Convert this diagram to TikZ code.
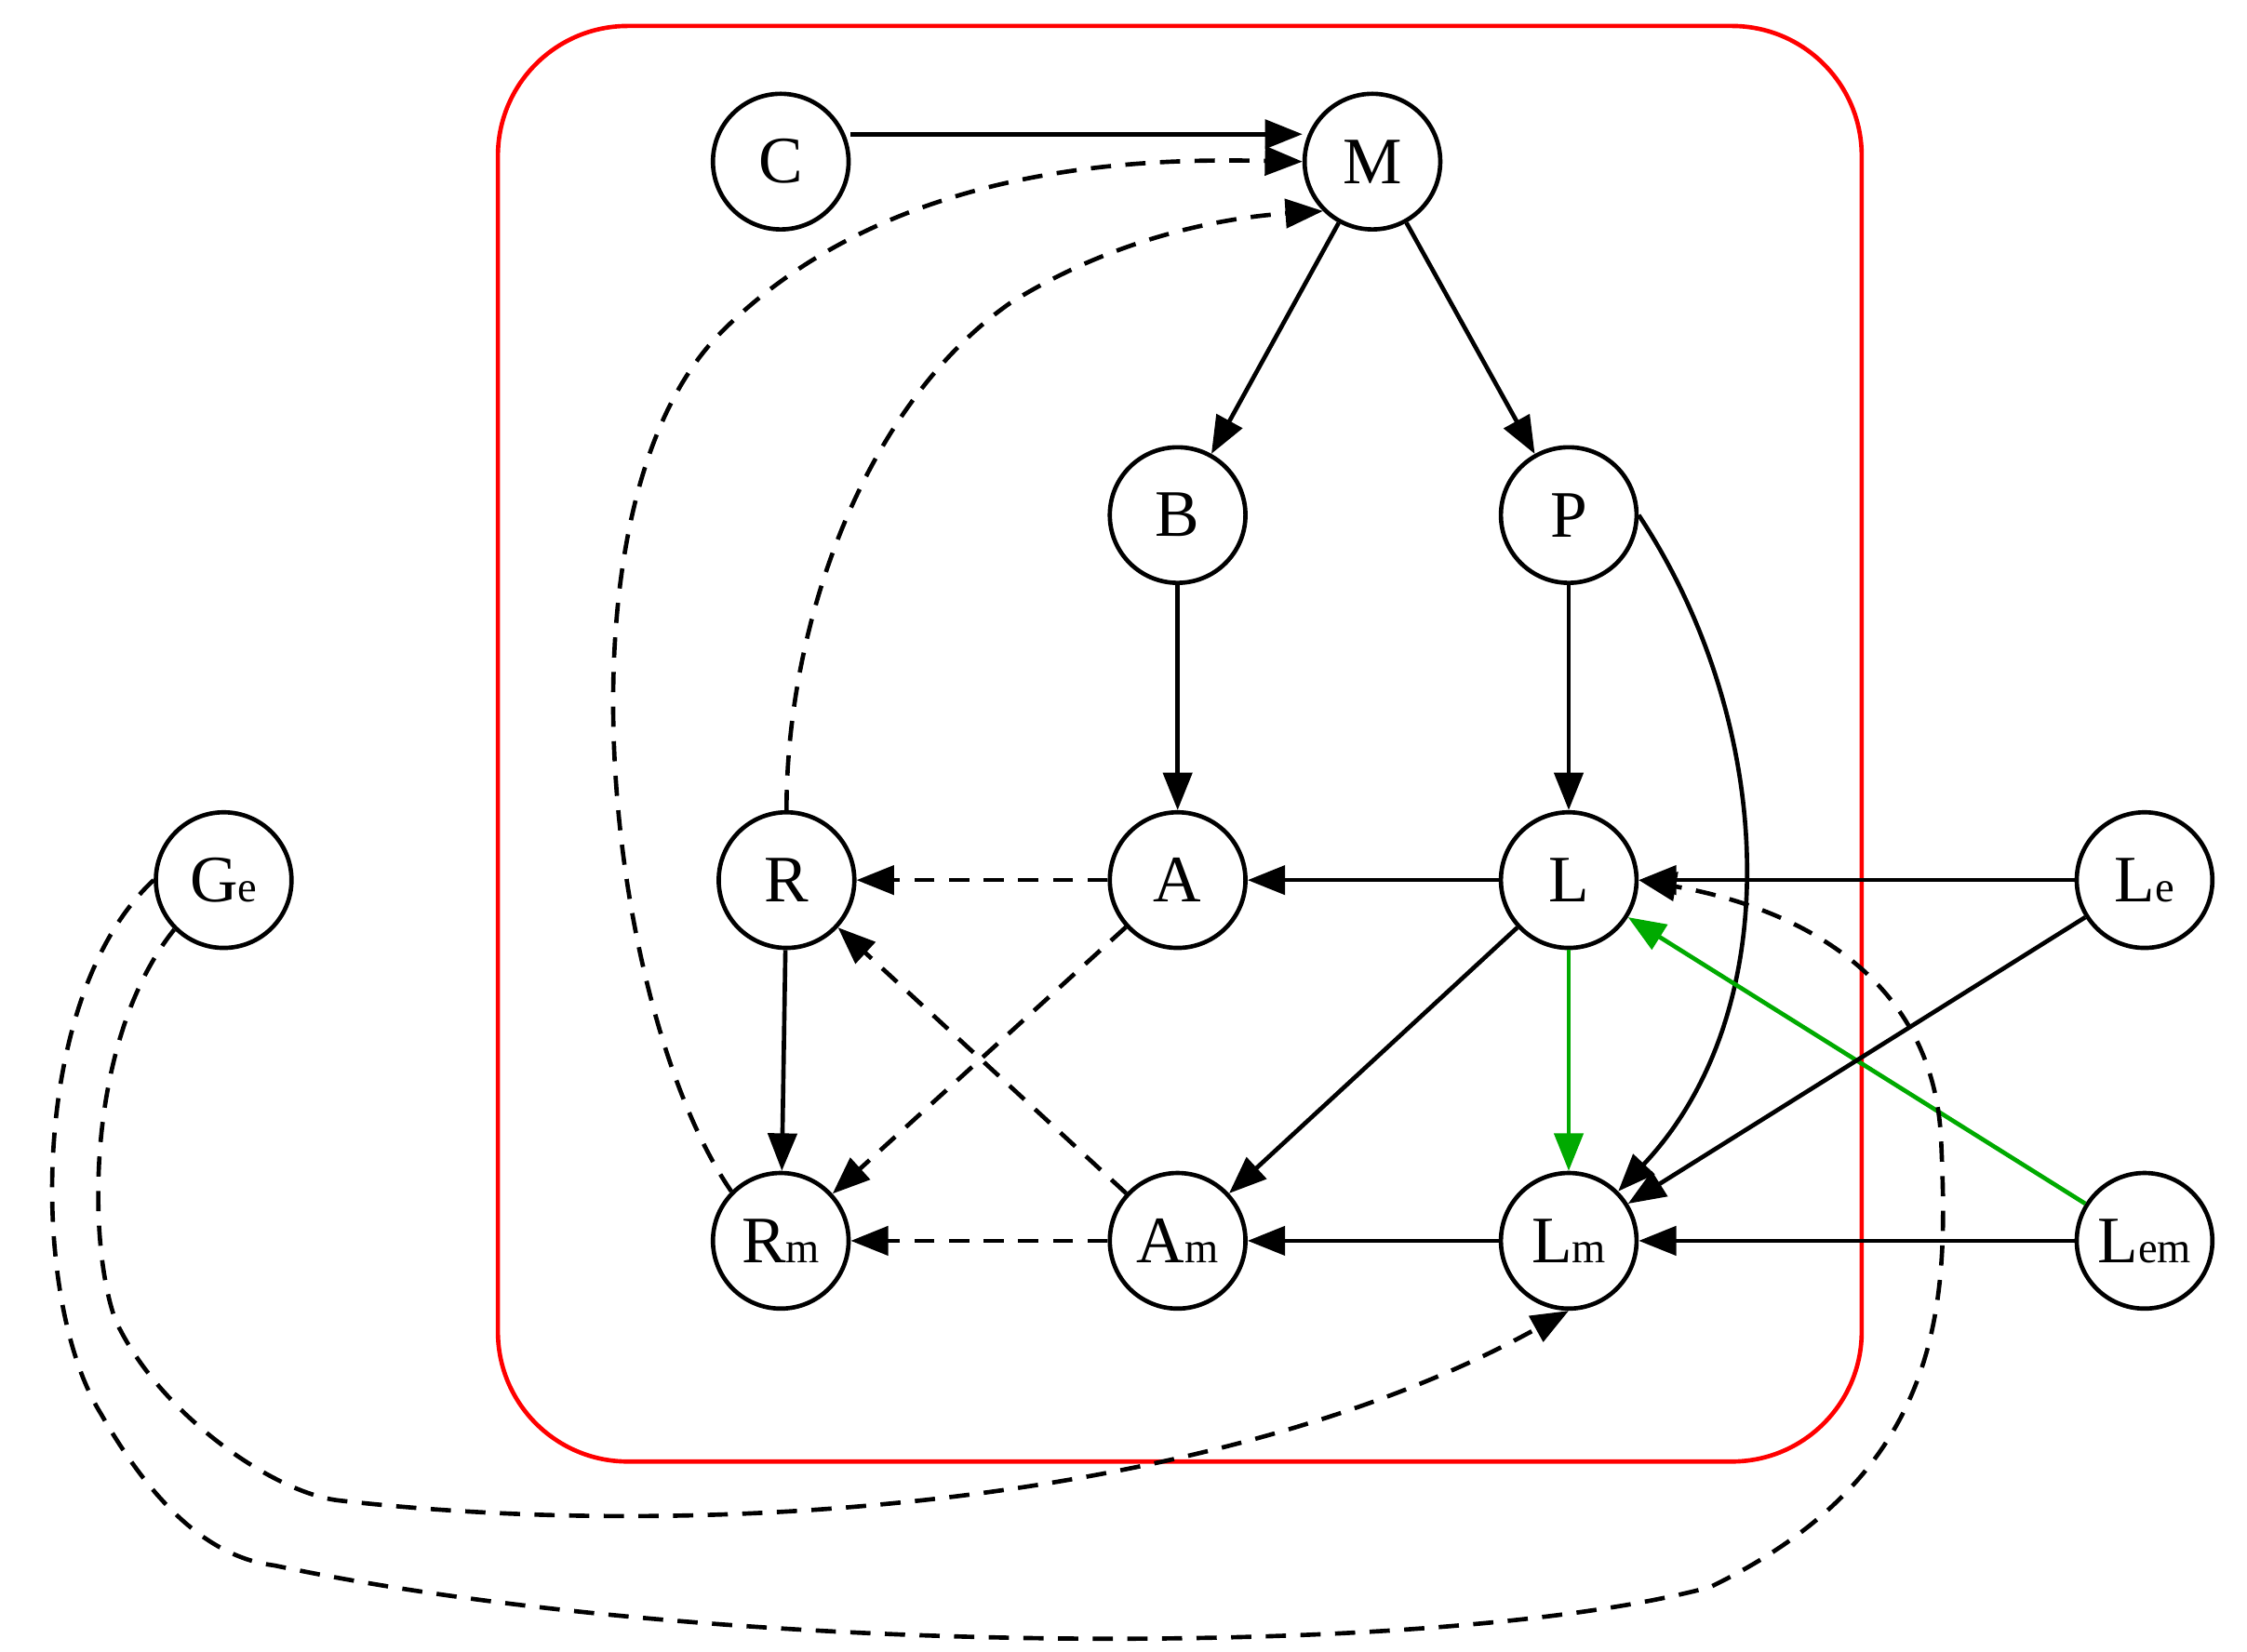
\documentclass[tikz,border=0pt]{standalone}
\usepackage{fontspec}
\setmainfont{Liberation Serif}
\usetikzlibrary{arrows.meta}
\newcommand{\sbs}[1]{{\fontsize{15}{15}\selectfont #1}}
\begin{document}
\begin{tikzpicture}[x=0.5pt,y=-0.5pt,
  nd/.style={circle,draw,line width=1.5pt,minimum size=47pt,inner sep=0pt,font=\fontsize{23}{26}\selectfont},
  ed/.style={line width=1.5pt,-{Triangle[length=13pt,width=10pt]}},
  dsh/.style={ed,dash pattern=on 7pt off 5pt},
  grn/.style={ed,draw={rgb,255:red,0;green,170;blue,0},-{Triangle[length=13pt,width=10pt,fill={rgb,255:red,0;green,170;blue,0}]}}]
\useasboundingbox (0,0) rectangle (1557,1145);
\draw[red,line width=1.5pt,rounded corners=45pt] (345,18) rectangle (1290,1013);
\node[nd] (C) at (541,112) {C};
\node[nd] (M) at (951,112) {M};
\node[nd] (B) at (816,357) {B};
\node[nd] (P) at (1087,357) {P};
\node[nd] (R) at (545,610) {R};
\node[nd] (A) at (816,610) {A};
\node[nd] (L) at (1087,610) {L};
\node[nd] (Le) at (1486,610) {L\sbs{e}};
\node[nd] (Ge) at (155,610) {G\sbs{e}};
\node[nd] (Rm) at (541,860) {R\sbs{m}};
\node[nd] (Am) at (816,860) {A\sbs{m}};
\node[nd] (Lm) at (1087,860) {L\sbs{m}};
\node[nd] (Lem) at (1486,860) {L\sbs{em}};
\draw[ed] (C.east |- 0,93) -- (M.west |- 0,93);
\draw[dsh] (Rm.north west) .. controls (420,700) and (380,350) .. (500,230) .. controls (620,110) and (800,110) .. (M.west);
\draw[dsh] (R.north) .. controls (545,430) and (600,280) .. (700,210) .. controls (780,160) and (860,150) .. (M.south west);
\draw[ed] (M) -- (B);
\draw[ed] (M) -- (P);
\draw[ed] (B) -- (A);
\draw[ed] (P) -- (L);
\draw[ed] (P.east) .. controls (1230,500) and (1240,700) .. (Lm.north east);
\draw[ed] (L) -- (A);
\draw[dsh] (A) -- (R);
\draw[dsh] (A) -- (Rm);
\draw[ed] (R) -- (Rm);
\draw[dsh] (Am) -- (R);
\draw[ed] (L) -- (Am);
\draw[grn] (L) -- (Lm);
\draw[grn] (Lem) -- (L);
\draw[ed] (Le) -- (L);
\draw[ed] (Le) -- (Lm);
\draw[ed] (Lem) -- (Lm);
\draw[ed] (Lm) -- (Am);
\draw[dsh] (Am) -- (Rm);
\draw[dsh] (Ge.south west) .. controls (60,720) and (60,860) .. (80,915) .. controls (110,980) and (190,1035) .. (235,1040) .. controls (500,1070) and (850,1040) .. (Lm.south);
\draw[dsh] (Ge.west) .. controls (20,690) and (20,900) .. (70,980) .. controls (110,1050) and (150,1080) .. (190,1085) .. controls (500,1150) and (1000,1150) .. (1185,1100) .. controls (1350,1020) and (1350,900) .. (1345,790) .. controls (1340,680) and (1250,630) .. (L.east);
\end{tikzpicture}
\end{document}
